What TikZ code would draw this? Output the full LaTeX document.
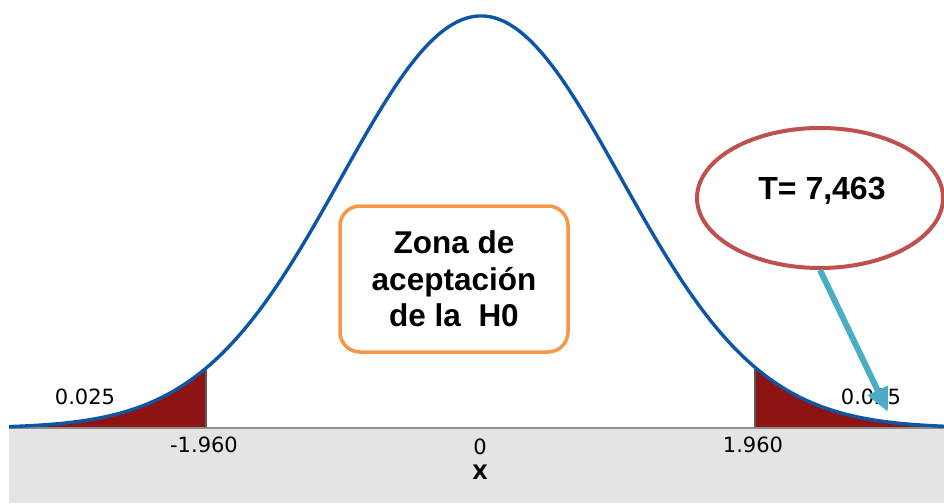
\documentclass[tikz,border=0pt]{standalone}
\usepackage{fontspec}
\setmainfont{Liberation Sans}
\newfontfamily\djsans{DejaVu Sans}
\usetikzlibrary{shapes.geometric,arrows.meta}
\definecolor{curveblue}{HTML}{0D56A6}
\definecolor{tailred}{HTML}{8E1414}
\definecolor{bandgray}{HTML}{E4E4E4}
\definecolor{axisgray}{HTML}{8C8C8C}
\definecolor{critgray}{HTML}{5A5A5A}
\definecolor{boxorange}{HTML}{F79646}
\definecolor{ellred}{HTML}{C0504D}
\definecolor{arrowblue}{HTML}{4BACC6}
\tikzset{
  numlabel/.style={font=\djsans\fontsize{21}{25}\selectfont, inner sep=0pt, text=black},
  xlabel/.style={font=\djsans\bfseries\fontsize{20}{24}\selectfont, inner sep=0pt},
  zonebox/.style={draw=boxorange, line width=3.5pt, rounded corners=20pt, fill=white,
    minimum width=228pt, minimum height=146pt, align=center,
    font=\bfseries\fontsize{31.5}{36.7}\selectfont},
  tellipse/.style={ellipse, draw=ellred, line width=4pt, fill=white,
    minimum width=246pt, minimum height=140pt, inner sep=0pt},
  ttext/.style={font=\bfseries\fontsize{32}{36}\selectfont, inner sep=0pt},
  pointer/.style={draw=arrowblue, line width=6pt,
    -{Triangle[length=24pt,width=21pt]}},
}
\begin{document}
\begin{tikzpicture}[x=1pt,y=-1pt]
\useasboundingbox (0,0) rectangle (944,503);
% band below axis
\fill[bandgray] (9,428) rectangle (944,503);
% tails
\fill[tailred] (9,428) -- plot[domain=9:206,samples=80] (\x,{428-412*exp(-((\x-481)/140)^2/2)}) -- (206,428) -- cycle;
\fill[tailred] (755,428) -- plot[domain=755:944,samples=80] (\x,{428-412*exp(-((\x-481)/140)^2/2)}) -- (944,428) -- cycle;
% critical lines
\coordinate (lc) at (206,428);
\coordinate (rc) at (755,428);
\draw[critgray, line width=1.8pt] (lc) -- ++(0,{-412*exp(-((206-481)/140)^2/2)});
\draw[critgray, line width=1.8pt] (rc) -- ++(0,{-412*exp(-((755-481)/140)^2/2)});
% axis
\coordinate (axl) at (9,428);
\coordinate (axr) at (944,428);
\draw[axisgray, line width=1.5pt] (axl) -- (axr);
% curve
\draw[curveblue, line width=3.4pt, line join=round] plot[domain=9:944,samples=300] (\x,{428-412*exp(-((\x-481)/140)^2/2)});
% labels
\node[numlabel] (pl) at (85,397) {0.025};
\node[numlabel] (pr) at (871,397) {0.025};
\node[numlabel] (cl) at (204,445) {-1.960};
\node[numlabel] (c0) at (480,447) {0};
\node[numlabel] (cr) at (753,445) {1.960};
\node[xlabel] (xl) at (480,472) {X};
% acceptance box
\node[zonebox] (zona) at (454,279) {Zona de\\aceptación\\de la~~H0};
% ellipse
\node[tellipse] (ell) at (820,198) {};
\node[ttext] (tval) at (822,191) {T= 7,463};
\coordinate (tip) at (888,412);
\draw[pointer] (ell.south) -- (tip);
\end{tikzpicture}
\end{document}
